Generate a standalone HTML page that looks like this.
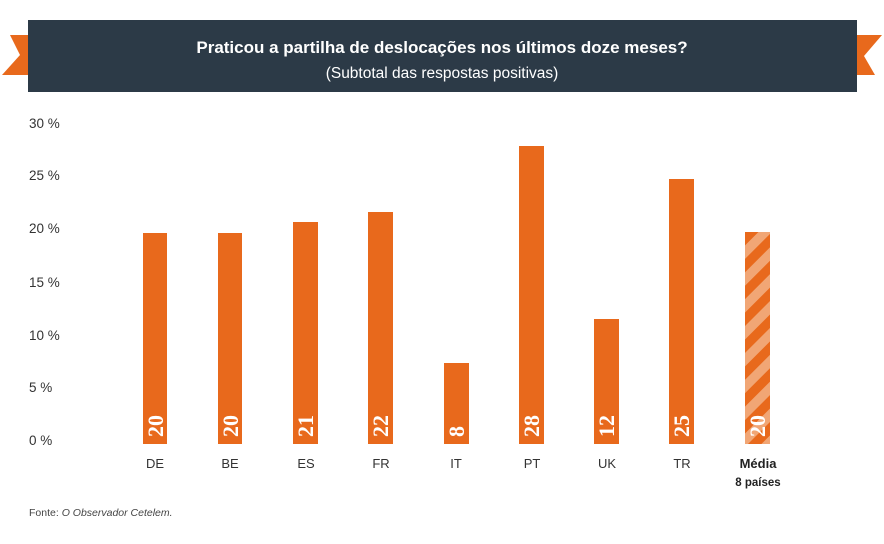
<!DOCTYPE html>
<html><head><meta charset="utf-8"><style>
html,body{margin:0;padding:0;background:#fff;}
svg{display:block;}
</style></head><body>
<svg width="884" height="544" viewBox="0 0 884 544" xmlns="http://www.w3.org/2000/svg">
<defs>
<pattern id="stripes" patternUnits="userSpaceOnUse" width="19" height="19" patternTransform="translate(745,232) rotate(45)">
<rect width="19" height="19" fill="#f1a675"/>
<rect width="9.5" height="19" fill="#e8691c"/>
</pattern>
</defs>
<rect width="884" height="544" fill="#fff"/>
<!-- ribbons -->
<polygon points="10,35 30,35 30,75 2,75 20,55" fill="#e8691c"/>
<polygon points="855,35 882,35 864,56 875,75 855,75" fill="#e8691c"/>
<rect x="28" y="20" width="829" height="72" fill="#2c3a47"/>
<text x="442" y="53" text-anchor="middle" font-family="Liberation Sans, sans-serif" font-weight="bold" font-size="17" fill="#fff">Praticou a partilha de deslocações nos últimos doze meses?</text>
<text x="442" y="78" text-anchor="middle" font-family="Liberation Sans, sans-serif" font-size="15.5" fill="#fff">(Subtotal das respostas positivas)</text>
<!-- y labels -->
<g font-family="Liberation Sans, sans-serif" font-size="13.5" fill="#333">
<text x="29" y="128">30 %</text>
<text x="29" y="180">25 %</text>
<text x="29" y="233">20 %</text>
<text x="29" y="287">15 %</text>
<text x="29" y="340">10 %</text>
<text x="29" y="392">5 %</text>
<text x="29" y="445">0 %</text>
</g>
<!-- bars -->
<g fill="#e8691c">
<rect x="143" y="233" width="24" height="211"/>
<rect x="218" y="233" width="24" height="211"/>
<rect x="293" y="222" width="25" height="222"/>
<rect x="368" y="212" width="25" height="232"/>
<rect x="444" y="363" width="25" height="81"/>
<rect x="519" y="146" width="25" height="298"/>
<rect x="594" y="319" width="25" height="125"/>
<rect x="669" y="179" width="25" height="265"/>
</g>
<rect x="745" y="232" width="25" height="212" fill="url(#stripes)"/>
<!-- values -->
<g font-family="Liberation Serif, serif" font-weight="bold" font-size="22" fill="#fff">
<text transform="translate(163,437) rotate(-90)">20</text>
<text transform="translate(238,437) rotate(-90)">20</text>
<text transform="translate(313,437) rotate(-90)">21</text>
<text transform="translate(388,437) rotate(-90)">22</text>
<text transform="translate(464,437) rotate(-90)">8</text>
<text transform="translate(539,437) rotate(-90)">28</text>
<text transform="translate(614,437) rotate(-90)">12</text>
<text transform="translate(689,437) rotate(-90)">25</text>
<text transform="translate(765,437) rotate(-90)">20</text>
</g>
<!-- categories -->
<g font-family="Liberation Sans, sans-serif" font-size="13" fill="#333" text-anchor="middle">
<text x="155" y="468">DE</text>
<text x="230" y="468">BE</text>
<text x="306" y="468">ES</text>
<text x="381" y="468">FR</text>
<text x="456" y="468">IT</text>
<text x="532" y="468">PT</text>
<text x="607" y="468">UK</text>
<text x="682" y="468">TR</text>
<text x="758" y="468" font-weight="bold" fill="#222">Média</text>
<text x="758" y="486" font-weight="bold" font-size="11.5" fill="#222">8 países</text>
</g>
<text x="29" y="516" font-family="Liberation Sans, sans-serif" font-size="10.5" fill="#444">Fonte: <tspan font-style="italic">O Observador Cetelem.</tspan></text>
</svg>
</body></html>
